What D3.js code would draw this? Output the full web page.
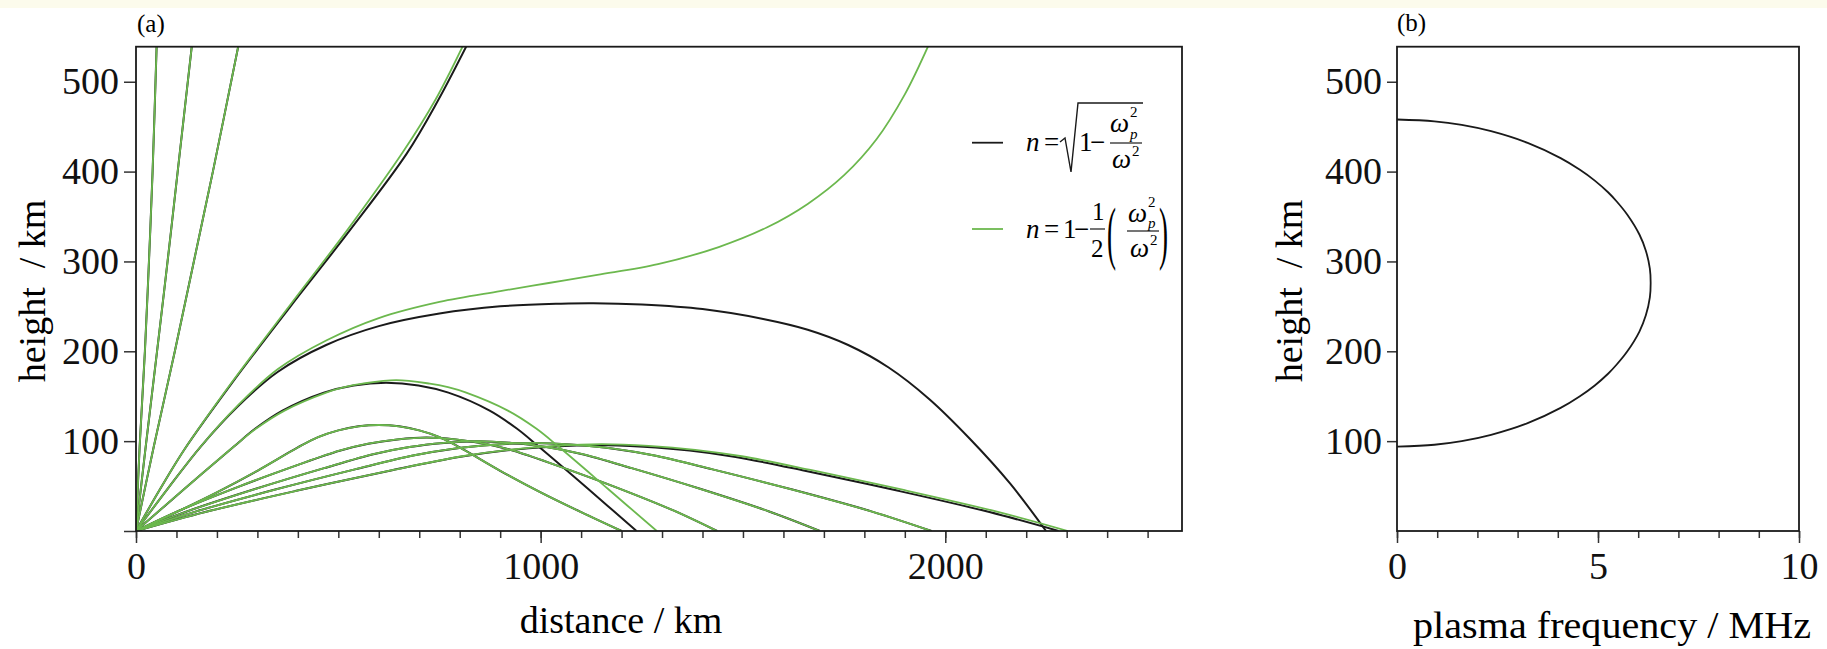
<!DOCTYPE html>
<html>
<head>
<meta charset="utf-8">
<script src="https://cdn.jsdelivr.net/npm/d3@7"></script>
<style>
  body { margin: 0; background: #fff; }
  svg { display: block; font-family: "Liberation Serif", "Times New Roman", serif; }
</style>
</head>
<body>
<svg id="chart" width="1827" height="649"></svg>
<script>
// tick labels
const distTicks = [0, 1000, 2000];
const heightTicks = [100, 200, 300, 400, 500];
const freqTicks = [0, 5, 10];

// ray paths, [distance km, height km]; exact index n = sqrt(1 - wp^2/w^2)
const exactRays = [
  [[0,0],[9,94],[22,200],[32,300],[41,400],[51,540]],
  [[0,0],[24,94],[52,200],[78,300],[103,400],[138,540]],
  [[0,0],[44,94],[96,200],[143,300],[190,400],[253,540]],
  [[0,0],[60,47],[120,91],[236,164],[380,249],[524,332],[669,420],[745,478],[817,540]],
  [[0,0],[80,48],[160,94],[250,138],[350,177],[470,207],[600,228],[750,242],[900,250],[1050,253],[1130,253.5],[1250,252],[1400,247],[1550,236],[1660,224],[1760,207],[1860,182],[1960,147],[2060,103],[2160,53],[2249,0]],
  [[0,0],[120,47],[242,94],[295,114],[362,134],[464,154],[538,162],[618,165],[698,162],[772,154],[874,134],[941,114],[995,94],[1117,47],[1237,0]],
  [[0,0],[100,21],[200,43],[300,67],[400,93],[450,104.5],[500,112],[550,116.5],[600,118],[650,116.5],[700,112],[750,104.5],[800,93],[900,67],[1000,43],[1100,21],[1200,0]],
  [[0,0],[108,22.9],[251,48.9],[395,72.8],[503,89.4],[574,97.2],[646,101.9],[718,104],[790,101.9],[862,97.2],[933,89.4],[1041,72.8],[1185,48.9],[1328,22.9],[1436,0]],
  [[0,0],[127,22],[296,47],[465,70],[592,86],[676,93.5],[761,98],[845,100],[929,98],[1014,93.5],[1098,86],[1225,70],[1394,47],[1563,22],[1690,0]],
  [[0,0],[147,21.6],[344,46.1],[541,68.6],[688,84.3],[786,91.6],[885,96],[983,98],[1081,96],[1180,91.6],[1278,84.3],[1425,68.6],[1622,46.1],[1819,21.6],[1966,0]],
  [[0,0],[171,21.1],[399,45],[627,67.1],[798,82.4],[912,89.6],[1026,93.9],[1140,95.8],[1254,93.9],[1368,89.6],[1482,82.4],[1653,67.1],[1881,45],[2109,21.1],[2280,0]]
];

// approximate index n = 1 - (1/2)(wp^2/w^2)
const approxRays = [
  [[0,0],[9,94],[22,200],[32,300],[41,400],[51,540]],
  [[0,0],[24,94],[52,200],[78,300],[103,400],[138,540]],
  [[0,0],[44,94],[96,200],[143,300],[190,400],[253,540]],
  [[0,0],[60,47],[120,91],[236,165],[380,251],[524,336],[660,422],[740,480],[808,540]],
  [[0,0],[80,48],[160,94],[250,139],[350,180],[470,212],[600,237],[750,255],[900,267],[1020,276],[1140,285],[1290,297],[1440,316],[1560,338],[1660,364],[1750,396],[1830,436],[1900,486],[1958,540]],
  [[0,0],[120,47],[242,94],[297,114],[367,134],[470,154],[515,160],[560,164],[643,168],[726,164],[771,160],[816,154],[919,134],[989,114],[1044,94],[1166,47],[1287,0]],
  [[0,0],[100,21],[200,43],[300,67],[400,93],[450,104.5],[500,112],[550,116.5],[600,118],[650,116.5],[700,112],[750,104.5],[800,93],[900,67],[1000,43],[1100,21],[1200,0]],
  [[0,0],[108,22.9],[251,48.9],[395,72.8],[503,89.4],[574,97.2],[646,101.9],[718,104],[790,101.9],[862,97.2],[933,89.4],[1041,72.8],[1185,48.9],[1328,22.9],[1436,0]],
  [[0,0],[127,22],[296,47],[465,70],[592,86],[676,93.5],[761,98],[845,100],[929,98],[1014,93.5],[1098,86],[1225,70],[1394,47],[1563,22],[1690,0]],
  [[0,0],[147,21.6],[344,46.1],[541,68.6],[688,84.3],[786,91.6],[885,96],[983,98],[1081,96],[1180,91.6],[1278,84.3],[1425,68.6],[1622,46.1],[1819,21.6],[1966,0]],
  [[0,0],[173,21.3],[403,45.4],[633,67.7],[806,83.2],[921,90.4],[1036,94.8],[1151,96.7],[1267,94.8],[1382,90.4],[1497,83.2],[1670,67.7],[1900,45.4],[2130,21.3],[2303,0]]
];

// electron density profile, panel (b)
const plasmaFreq = [0,0.93,1.61,2.34,3.25,4.07,4.55,4.92,5.25,5.46,5.73,6.03,6.19,6.29,6.31,6.29,6.19,6.03,5.73,5.46,5.25,4.92,4.55,4.07,3.25,2.34,1.61,0.93,0];
const plasmaHeight = [94,96,100,107,120,137,150,162,175,185,200,222,240,260,276,292,312,330,352,367,377,390,402,415,432,445,452,456,458];

const green = "#6cb84e";
const ink = "#1a1a1a";

const svg = d3.select("#chart");
svg.append("rect").attr("width", 1827).attr("height", 649).attr("fill", "#fff");
svg.append("rect").attr("width", 1827).attr("height", 8).attr("fill", "#fcfbec");

// ---------- panel (a) ----------
const xA = d3.scaleLinear().domain([0, 2585]).range([136, 1182]);
const yA = d3.scaleLinear().domain([0, 539]).range([531, 46.7]);

svg.append("clipPath").attr("id", "clipA").append("rect")
    .attr("x", 136).attr("y", 46.7).attr("width", 1046).attr("height", 484.3);

const lineA = d3.line()
    .x(d => xA(d[0]))
    .y(d => yA(d[1]))
    .curve(d3.curveCatmullRom.alpha(0.5));

const rays = svg.append("g").attr("clip-path", "url(#clipA)");

rays.selectAll("path.exact").data(exactRays).join("path")
    .attr("class", "exact")
    .attr("d", lineA)
    .attr("fill", "none")
    .attr("stroke", ink)
    .attr("stroke-width", 2);

rays.selectAll("path.approx").data(approxRays).join("path")
    .attr("class", "approx")
    .attr("d", lineA)
    .attr("fill", "none")
    .attr("stroke", green)
    .attr("stroke-width", 1.8);

function styleAxis(g, size) {
    g.select(".domain").remove();
    g.selectAll(".tick line").attr("stroke", "#333").attr("stroke-width", 1.5);
    g.selectAll("text").attr("fill", "#111").attr("font-size", size)
        .attr("font-family", "'Liberation Serif', serif");
}

svg.append("g").attr("transform", "translate(0,531)")
    .call(d3.axisBottom(xA).tickValues(d3.range(0, 2600, 100)).tickSize(7).tickFormat(""))
    .call(g => styleAxis(g, 38));
svg.append("g").attr("transform", "translate(0,531)")
    .call(d3.axisBottom(xA).tickValues(distTicks).tickSize(12).tickPadding(9).tickFormat(d3.format("d")))
    .call(g => styleAxis(g, 38));
svg.append("g").attr("transform", "translate(136,0)")
    .call(d3.axisLeft(yA).tickValues([0].concat(heightTicks)).tickSize(12).tickPadding(5)
        .tickFormat(d => d === 0 ? "" : d))
    .call(g => styleAxis(g, 38));

svg.append("rect")
    .attr("x", 136).attr("y", 46.7).attr("width", 1046).attr("height", 484.3)
    .attr("fill", "none").attr("stroke", ink).attr("stroke-width", 1.8);

svg.append("text").text("(a)").attr("x", 137).attr("y", 32).attr("font-size", 25);
svg.append("text").text("distance / km").attr("x", 621).attr("y", 633)
    .attr("text-anchor", "middle").attr("font-size", 38);
svg.append("text").text("height  / km").style("white-space", "pre")
    .attr("transform", "translate(45,291) rotate(-90)")
    .attr("text-anchor", "middle").attr("font-size", 38);

// legend
const leg = svg.append("g");
leg.append("line").attr("x1", 972).attr("x2", 1003).attr("y1", 142.7).attr("y2", 142.7)
    .attr("stroke", ink).attr("stroke-width", 1.8);
leg.append("line").attr("x1", 972).attr("x2", 1003).attr("y1", 229).attr("y2", 229)
    .attr("stroke", green).attr("stroke-width", 1.8);

function put(x, y, str, size, italic) {
    return leg.append("text").text(str).attr("x", x).attr("y", y)
        .attr("font-size", size).attr("font-style", italic ? "italic" : "normal");
}

// n = sqrt(1 - wp^2 / w^2)
put(1026, 151, "n", 27, true);
put(1044, 151, "=", 27, false);
leg.append("path")
    .attr("d", "M1060,142 L1065,138 L1071,172 L1078,103 L1143,103")
    .attr("fill", "none").attr("stroke", ink).attr("stroke-width", 1.4);
put(1079, 151, "1", 27, false);
put(1090, 151, "\u2212", 27, false);
put(1110, 132, "\u03c9", 27, true);
put(1130, 117, "2", 15, false);
put(1130, 139, "p", 15, true);
leg.append("line").attr("x1", 1110).attr("x2", 1142).attr("y1", 143).attr("y2", 143)
    .attr("stroke", ink).attr("stroke-width", 1.2);
put(1112, 168, "\u03c9", 27, true);
put(1132, 156, "2", 15, false);

// n = 1 - (1/2)(wp^2 / w^2)
put(1026, 238, "n", 27, true);
put(1044, 238, "=", 27, false);
put(1063, 238, "1", 27, false);
put(1074, 238, "\u2212", 27, false);
put(1092, 220, "1", 25, false);
leg.append("line").attr("x1", 1090).attr("x2", 1105).attr("y1", 229).attr("y2", 229)
    .attr("stroke", ink).attr("stroke-width", 1.2);
put(1091, 257, "2", 25, false);
leg.append("text").text("(").attr("font-size", 27)
    .attr("transform", "translate(1107,256) scale(1,2.6)");
put(1128, 222, "\u03c9", 27, true);
put(1148, 207, "2", 15, false);
put(1148, 228, "p", 15, true);
leg.append("line").attr("x1", 1127).attr("x2", 1159).attr("y1", 231).attr("y2", 231)
    .attr("stroke", ink).attr("stroke-width", 1.2);
put(1130, 257, "\u03c9", 27, true);
put(1150, 245, "2", 15, false);
leg.append("text").text(")").attr("font-size", 27)
    .attr("transform", "translate(1159,256) scale(1,2.6)");

// ---------- panel (b) ----------
const xB = d3.scaleLinear().domain([0, 10]).range([1397, 1799]);
const yB = d3.scaleLinear().domain([0, 539]).range([531, 46.7]);

const profile = plasmaFreq.map((f, i) => [f, plasmaHeight[i]]);

svg.append("path")
    .datum(profile)
    .attr("d", d3.line().x(d => xB(d[0])).y(d => yB(d[1])).curve(d3.curveCatmullRom.alpha(0.5)))
    .attr("fill", "none")
    .attr("stroke", ink)
    .attr("stroke-width", 1.8);

svg.append("g").attr("transform", "translate(0,531)")
    .call(d3.axisBottom(xB).tickValues(d3.range(0, 11, 1)).tickSize(7).tickFormat(""))
    .call(g => styleAxis(g, 38));
svg.append("g").attr("transform", "translate(0,531)")
    .call(d3.axisBottom(xB).tickValues(freqTicks).tickSize(12).tickPadding(9))
    .call(g => styleAxis(g, 38));
svg.append("g").attr("transform", "translate(1397,0)")
    .call(d3.axisLeft(yB).tickValues(heightTicks).tickSize(10).tickPadding(5))
    .call(g => styleAxis(g, 38));

svg.append("rect")
    .attr("x", 1397).attr("y", 46.7).attr("width", 402).attr("height", 484.3)
    .attr("fill", "none").attr("stroke", ink).attr("stroke-width", 1.8);

svg.append("text").text("(b)").attr("x", 1397).attr("y", 31).attr("font-size", 25);
svg.append("text").text("plasma frequency / MHz").attr("x", 1612).attr("y", 638)
    .attr("text-anchor", "middle").attr("font-size", 38)
    .attr("textLength", 398).attr("lengthAdjust", "spacingAndGlyphs");
svg.append("text").text("height  / km").style("white-space", "pre")
    .attr("transform", "translate(1302,291) rotate(-90)")
    .attr("text-anchor", "middle").attr("font-size", 38);
</script>
</body>
</html>
